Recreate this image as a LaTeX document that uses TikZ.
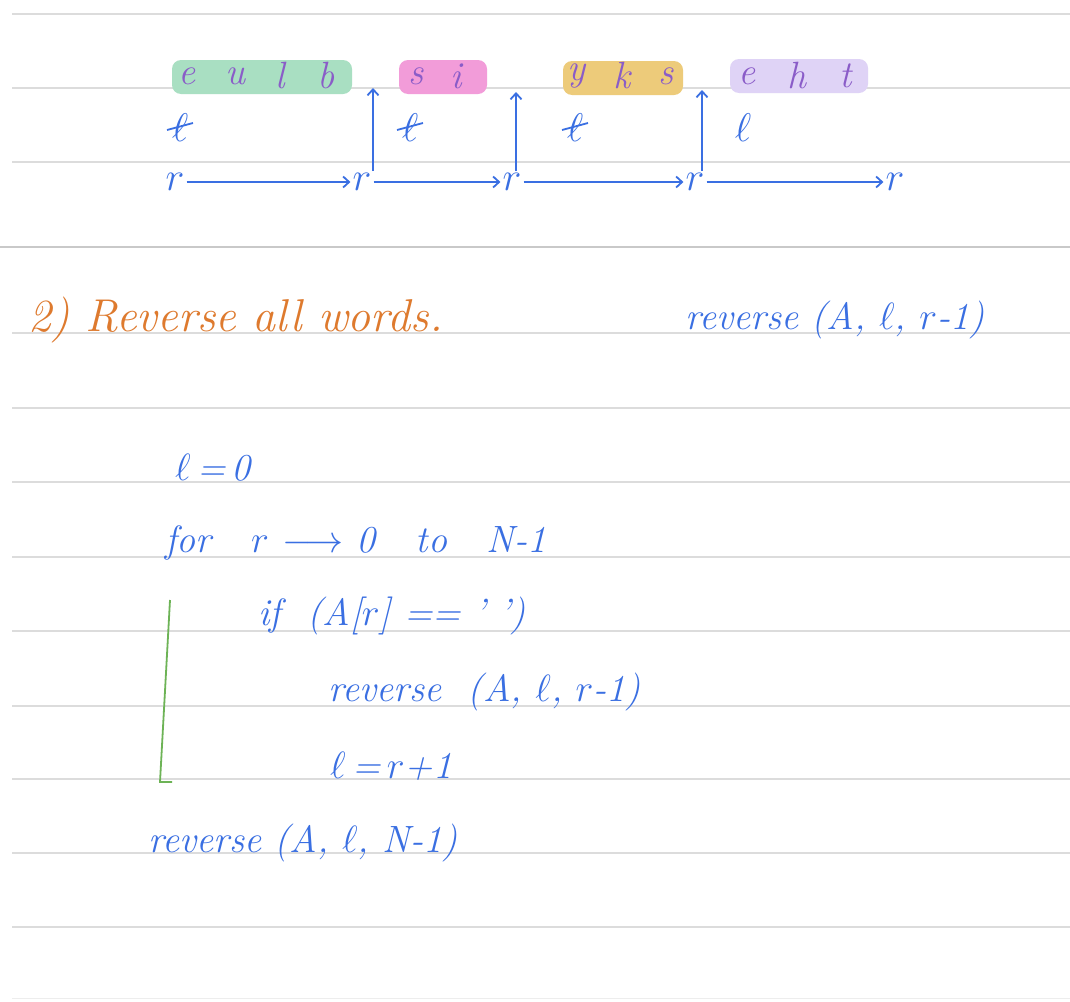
\documentclass[tikz,border=0pt]{standalone}
\usepackage{fix-cm}
\usepackage{tikz}
\usetikzlibrary{arrows.meta}
\definecolor{ink}{HTML}{3A6FE2}
\definecolor{heading}{HTML}{DE7A2E}
\definecolor{letter}{HTML}{8A5CC8}
\definecolor{rulegray}{HTML}{DCDCDC}
\definecolor{hlgreen}{HTML}{A9DFC2}
\definecolor{hlpink}{HTML}{F29CD9}
\definecolor{hlyellow}{HTML}{EDCB7A}
\definecolor{hllav}{HTML}{DFD3F6}
\definecolor{bracket}{HTML}{6DB356}

\begin{document}
\begin{tikzpicture}[x=1pt,y=-1pt,
    hl/.style={rounded corners=9pt, minimum height=34pt, inner sep=0pt},
    chr/.style={text=letter, font=\fontsize{38}{38}\selectfont\itshape, inner sep=0pt},
    ptr/.style={text=ink, font=\fontsize{40}{40}\selectfont, inner sep=2pt},
    code/.style={text=ink, anchor=west, font=\fontsize{38}{40}\selectfont\itshape, inner sep=0pt},
    arr/.style={draw=ink, line width=1.8pt, -{Straight Barb[length=6pt,width=11pt]}},
]
\useasboundingbox (0,0) rectangle (1070,1001);
\fill[white] (0,0) rectangle (1070,1001);

% ruled lines
\foreach \y in {14,88,162,333,408,482,557,631,706,779,853,927}
  \draw[rulegray, line width=1.2pt] (12,\y) -- (1070,\y);
\draw[rulegray!80!gray, line width=1.4pt] (0,247) -- (1070,247);
\draw[rulegray!50, line width=1pt] (12,998) -- (1070,998);

% highlighted words
\node[hl, fill=hlgreen, minimum width=180pt] (blue) at (262,77) {};
\node[hl, fill=hlpink, minimum width=88pt] (is) at (443,77) {};
\node[hl, fill=hlyellow, minimum width=120pt] (sky) at (623,78) {};
\node[hl, fill=hllav, minimum width=138pt] (the) at (799,76) {};
\foreach \c/\x in {e/187,u/235,l/280,b/326,s/416,i/456,y/577,k/622,s/666,e/747,h/797,t/846}
  \node[chr] (c\x) at (\x,76) {\c};

% pointers
\node[ptr] (r0) at (175,182) {$r$};
\node[ptr] (r1) at (362,182) {$r$};
\node[ptr] (r2) at (512,182) {$r$};
\node[ptr] (r3) at (695,182) {$r$};
\node[ptr] (r4) at (895,182) {$r$};
\foreach \a/\b in {r0/r1,r1/r2,r2/r3,r3/r4}
  \draw[arr] (\a) -- (\b);

\foreach \x in {180,410,575} {
  \node[ptr] (l\x) at (\x,128) {$\ell$};
  \draw[ink, line width=1.8pt] ([xshift=-13pt,yshift=-2pt]l\x.center) -- ([xshift=13pt,yshift=5pt]l\x.center);
}
\node[ptr] (l742) at (743,128) {$\ell$};

\coordinate (gap1) at (373,88);
\coordinate (gap2) at (516,92);
\coordinate (gap3) at (702,90);
\draw[arr] (gap1 |- r1.north) -- (gap1);
\draw[arr] (gap2 |- r2.north) -- (gap2);
\draw[arr] (gap3 |- r3.north) -- (gap3);

% step 2
\node[code, text=heading, font=\fontsize{46}{48}\selectfont\itshape] (step) at (28,320) {2)\ Reverse\ all\ words.};
\node[code] (call) at (685,320) {reverse (A, $\ell$, $r$-1)};

\node[code] (init) at (175,468) {$\ell$\,=\,0};
\node[code] (loop) at (165,543) {for\ \ \ $r$\ $\longrightarrow$\ 0\ \ \ to\ \ \ N-1};
\node[code] (cond) at (258,616) {if\ \ (A[$r$] == '\ ')};
\node[code] (rev) at (328,692) {reverse\ \ (A,\ $\ell$,\ $r$-1)};
\node[code] (upd) at (330,766) {$\ell$\,=\,$r$+1};
\node[code] (last) at (148,843) {reverse (A, $\ell$, N-1)};

\coordinate (bodytop) at (170,600);
\coordinate (bodybot) at (160,782);
\draw[bracket, line width=1.8pt] (bodytop) -- (bodybot) -- ++(12,0);
\end{tikzpicture}
\end{document}
